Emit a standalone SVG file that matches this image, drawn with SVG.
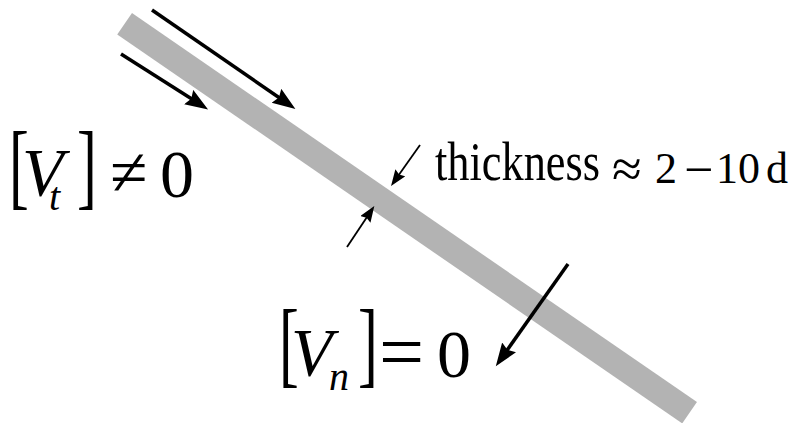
<svg xmlns="http://www.w3.org/2000/svg" width="799" height="423" viewBox="0 0 799 423">
<style>
.math{font-family:"Liberation Serif","Times New Roman",serif;fill:#000}
.it{font-style:italic}
.arr{stroke:#000;fill:none;stroke-linecap:butt}
</style>
<defs>
<marker id="hb" markerUnits="userSpaceOnUse" markerWidth="24" markerHeight="18" refX="14" refY="8.5" orient="auto">
<path d="M0,0 L23,8.5 L0,17 L3,8.5 z" fill="#000"/>
</marker>
<marker id="hs" markerUnits="userSpaceOnUse" markerWidth="18" markerHeight="14" refX="10" refY="6" orient="auto">
<path d="M0,0 L16,6 L0,12 L2,6 z" fill="#000"/>
</marker>
</defs>
<rect width="799" height="423" fill="#fff"/>
<g id="layer">
<line x1="124.6" y1="23.7" x2="689.6" y2="412.7" stroke="#b3b3b3" stroke-width="26"/>
</g>
<g id="connectors">
<line class="arr" x1="152" y1="10" x2="288" y2="103.8" stroke-width="3.5" marker-end="url(#hb)"/>
<line class="arr" x1="121" y1="54" x2="200.5" y2="104.6" stroke-width="3.5" marker-end="url(#hb)"/>
<line class="arr" x1="568" y1="264" x2="501" y2="358.8" stroke-width="3.5" marker-end="url(#hb)"/>
<line class="arr" x1="420" y1="145" x2="394.5" y2="181" stroke-width="1.8" marker-end="url(#hs)"/>
<line class="arr" x1="347" y1="247" x2="371" y2="211" stroke-width="1.8" marker-end="url(#hs)"/>
</g>
<g id="vt">
<text class="math" font-size="96" transform="translate(9,197) scale(0.62,1)">[</text>
<text class="math it" font-size="68" x="22" y="195">V</text>
<text class="math it" font-size="40" x="49" y="210">t</text>
<text class="math" font-size="96" transform="translate(77,197) scale(0.62,1)">]</text>
<text class="math" font-size="68" x="110" y="195">≠</text>
<text class="math" font-size="68" x="160" y="197">0</text>
</g>
<g id="vn">
<text class="math" font-size="96" transform="translate(279,375) scale(0.62,1)">[</text>
<text class="math it" font-size="68" x="291" y="375">V</text>
<text class="math it" font-size="40" x="329" y="390">n</text>
<text class="math" font-size="96" transform="translate(358,375) scale(0.62,1)">]</text>
<text class="math" font-size="80" x="379" y="379">=</text>
<text class="math" font-size="68" x="437" y="377">0</text>
</g>
<g id="thickness">
<text class="math" font-size="54" x="435" y="180" textLength="165" lengthAdjust="spacingAndGlyphs">thickness</text>
<text class="math" font-size="54" x="612" y="187">≈</text>
<text class="math" font-size="44" x="655" y="183">2</text>
<text class="math" font-size="52" x="684" y="187">−</text>
<text class="math" font-size="44" x="716" y="183">10</text>
<text class="math" font-size="44" x="766" y="183">d</text>
</g>
</svg>
